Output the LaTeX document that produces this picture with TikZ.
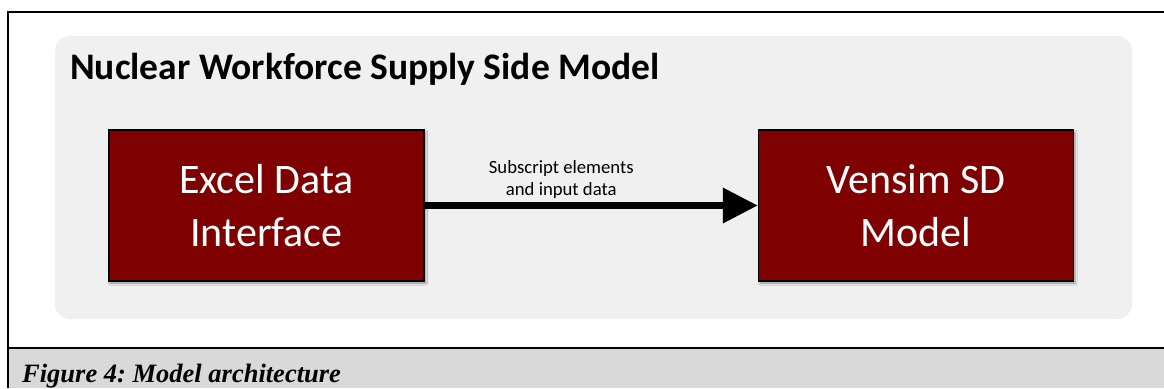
\documentclass[tikz,border=0pt]{standalone}
\usepackage{fontspec}
\setmainfont{Carlito}
\newfontfamily\figfont{Liberation Serif}
\usepackage{xcolor}
\definecolor{darkmaroon}{HTML}{7F0000}
\definecolor{panelgray}{HTML}{F0F0F0}
\definecolor{captiongray}{HTML}{D9D9D9}
\usepackage{tikz}
\usetikzlibrary{positioning, arrows.meta, shadows.blur}
\tikzset{
	block/.style={draw=black, line width=1.5pt, fill=darkmaroon, text=white, align=center,
	minimum width=315pt, minimum height=151pt, inner sep=0pt,
	font=\fontsize{42}{53}\selectfont,
	blur shadow={shadow blur steps=5, shadow xshift=1.5pt, shadow yshift=-2pt, shadow blur radius=2pt}}
}
\tikzset{
	flow/.style={line width=7pt, -{Triangle[length=35pt, width=34pt]}}
}

\begin{document}
\frenchspacing
\begin{tikzpicture}[x=1pt, y=-1pt]
		\useasboundingbox (0, 0) rectangle (1164, 388);

		% figure frame and caption bar
		\fill[captiongray] (8, 348) rectangle (1164, 388);
		\draw[line width=2pt] (1164, 348) -- (8, 348);
		\draw[line width=2pt] (8, 388) -- (8, 12) -- (1164, 12);

		% model panel
		\fill[panelgray, rounded corners=15pt] (55, 36) rectangle (1132, 319);
		\node[anchor=base west, inner sep=0pt, font=\fontsize{37.5}{44}\selectfont\bfseries] (title) at (70, 79) {Nuclear Workforce Supply Side Model};

		% blocks
		\node[block] (excel) at (266.5, 205.5) {Excel Data\\Interface};
		\node[block, right=333pt of excel] (vensim) {Vensim SD\\Model};

		% data flow
		\draw[flow] (excel) -- (vensim)
			node[pos=0.41, above=0pt, align=center, font=\fontsize{18.7}{22}\selectfont] (flowlabel) {Subscript elements\\and input data};

		% caption
		\node[anchor=base west, inner sep=0pt, font=\figfont\fontsize{26.5}{30}\selectfont\bfseries\itshape] (caption) at (22, 382) {Figure 4: Model architecture};

	\end{tikzpicture}
\end{document}
